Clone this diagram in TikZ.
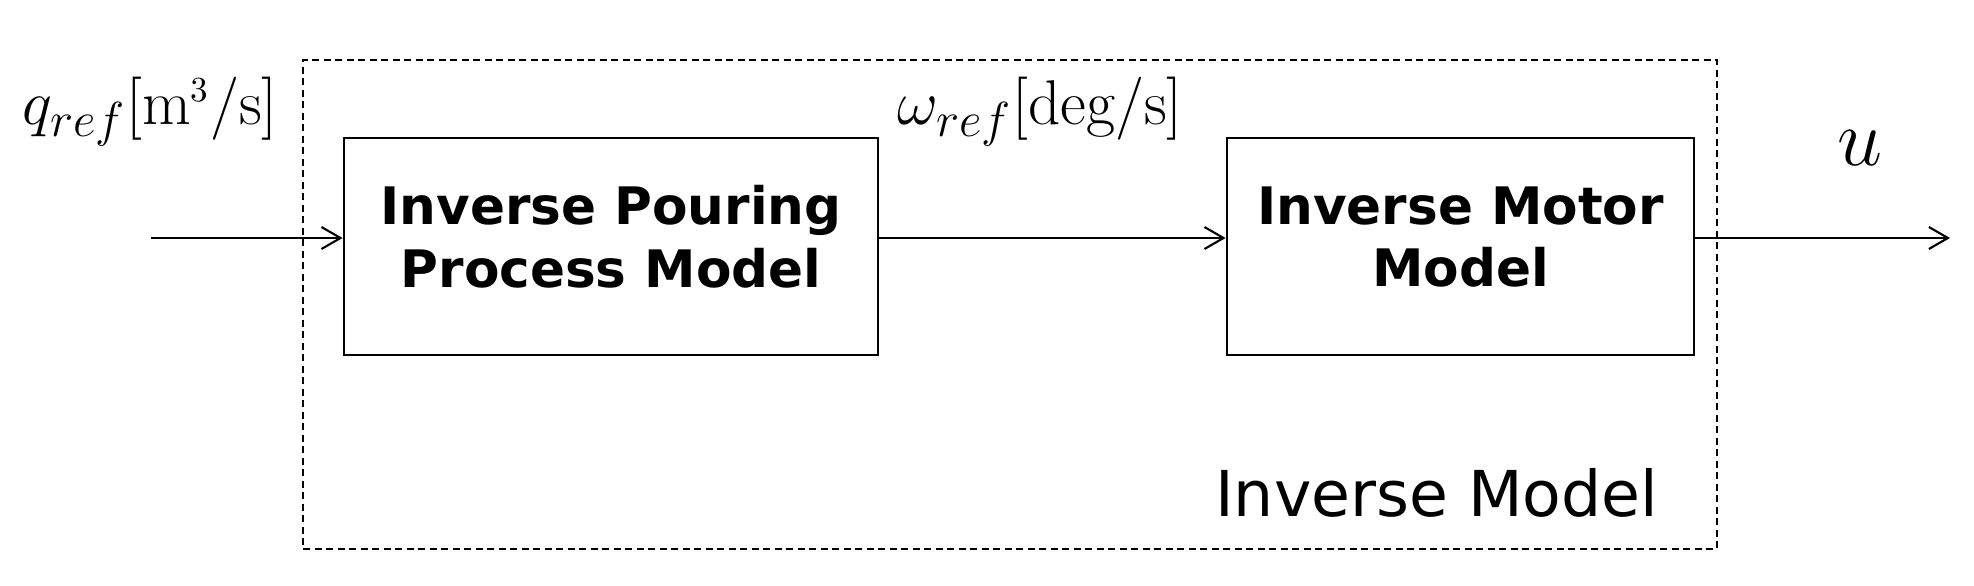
\RequirePackage{fix-cm}
\documentclass[tikz,border=0pt]{standalone}
\usepackage{amsmath}
\usepackage{fontspec}
\usepackage{tikz}
\usetikzlibrary{arrows.meta}
\newfontfamily\blockfont{DejaVu Sans}
\DeclareMathSizes{18}{18}{14}{10}

\begin{document}
\begin{tikzpicture}[
      blockbox/.style={draw, line width=0.8pt, minimum height=2.17cm, inner sep=0pt},
      blocktext/.style={align=center, font=\blockfont\bfseries\fontsize{14.7}{17.9}\selectfont},
      signal/.style={line width=0.6pt, -{Straight Barb[length=1.9mm,width=2.2mm]}},
      mathlabel/.style={font=\fontsize{18}{22}\selectfont, inner sep=0pt}
    ]
      \useasboundingbox (0,0) rectangle (19.74,-5.86);

      \node[draw, dash pattern=on 0.07cm off 0.045cm, line width=0.55pt, minimum width=14.14cm, minimum height=4.89cm, inner sep=0pt] (inv) at (10.10,-3.045) {};

      \node[blockbox, minimum width=5.34cm] (pour)  at (6.11,-2.465)  {};
      \node[blockbox, minimum width=4.67cm] (motor) at (14.605,-2.465) {};
      \node[blocktext] (pourtext)  at (6.11,-2.37)  {Inverse Pouring\\Process Model};
      \node[blocktext] (motortext) at (14.605,-2.37) {Inverse Motor\\Model};

      \coordinate (in)  at (1.51,-2.38);
      \coordinate (out) at (19.50,-2.38);

      \draw[signal] (in) -- (in -| pour.west);
      \draw[signal] (pour.east |- in) -- (motor.west |- in);
      \draw[signal] (motor.east |- out) -- (out);

      \node[mathlabel, anchor=base west] (qref) at (0.22,-1.24) {$q_{ref}[\mathrm{m^{\scriptscriptstyle 3}/s}]$};
      \node[mathlabel, anchor=base west] (wref) at (8.97,-1.24) {$\omega_{ref}[\mathrm{deg/s}]$};
      \node[inner sep=0pt, anchor=base, font=\fontsize{23}{27}\selectfont] (u) at (18.60,-1.65) {$u$};
      \node[inner sep=0pt, anchor=base east, font=\blockfont\fontsize{18}{22}\selectfont] (invlabel) at (16.59,-5.16) {Inverse Model};
    \end{tikzpicture}
\end{document}
